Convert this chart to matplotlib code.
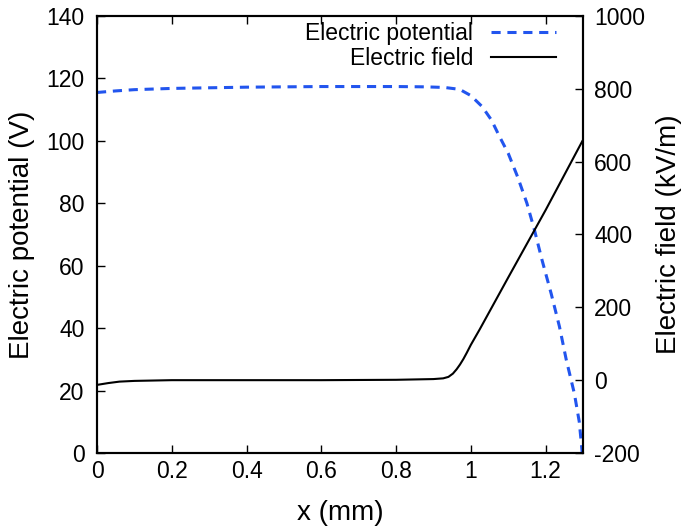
import matplotlib
matplotlib.use("Agg")
import matplotlib.pyplot as plt

plt.rcParams['font.family'] = ['Liberation Sans', 'DejaVu Sans']

# Electric potential (V), left axis
x_pot = [0, 0.05, 0.1, 0.2, 0.3, 0.4, 0.5, 0.6, 0.7, 0.8, 0.88, 0.93, 0.97,
         1.0, 1.03, 1.055, 1.077, 1.1, 1.125, 1.15, 1.17, 1.19, 1.215, 1.237,
         1.255, 1.277, 1.29, 1.298]
potential = [115.5, 116.0, 116.4, 116.8, 117.0, 117.2, 117.3, 117.4, 117.4,
             117.4, 117.3, 117.1, 116.5, 114.5, 111.0, 106.7, 101.3, 96.0, 88.5,
             80.0, 71.5, 62.0, 51.0, 40.5, 30.0, 19.0, 10.0, 0.0]

# Electric field (kV/m), right axis
x_field = [0, 0.03, 0.06, 0.1, 0.2, 0.4, 0.6, 0.8, 0.9, 0.926, 0.94, 0.952,
           0.962, 0.971, 0.98, 0.989, 1.0, 1.024, 1.1, 1.2, 1.298]
field = [-13, -8, -4, -2, 0, 0, 0, 1, 3, 5, 9, 18, 30, 43, 58, 75, 97, 140,
         282, 467, 656]

x_ticks = [0, 0.2, 0.4, 0.6, 0.8, 1.0, 1.2]
x_ticklabels = ['0', '0.2', '0.4', '0.6', '0.8', '1', '1.2']
left_ticks = [0, 20, 40, 60, 80, 100, 120, 140]
right_ticks = [-200, 0, 200, 400, 600, 800, 1000]
right_ticklabels = ['-200', '0', '200', '400', '600', '800', '1000']

fs = 16.5
lfs = 20
fig = plt.figure(figsize=(6.85, 5.26), dpi=100)
ax = fig.add_axes([97 / 685, 73 / 526, 486 / 685, 437 / 526])
ax2 = ax.twinx()

l1, = ax.plot(x_pot, potential, color='#2255ee', lw=2.2, dashes=(3.0, 2.2),
              label='Electric potential')
l2, = ax2.plot(x_field, field, color='black', lw=1.5, label='Electric field')

ax.set_xlim(0, 1.3)
ax.set_ylim(0, 140)
ax2.set_ylim(-200, 1000)

ax.set_xticks(x_ticks)
ax.set_xticklabels(x_ticklabels)
ax.set_yticks(left_ticks)
ax2.set_yticks(right_ticks)
ax2.set_yticklabels(right_ticklabels)

ax.tick_params(axis='x', direction='in', length=6, width=1, top=True,
               labelsize=fs, pad=5)
ax.tick_params(axis='y', direction='in', length=6, width=1, right=False,
               labelsize=fs, pad=9)
ax2.tick_params(axis='y', direction='in', length=6, width=1,
                labelsize=fs, pad=8)

for a in (ax, ax2):
    for s in a.spines.values():
        s.set_linewidth(1.5)

ax.set_xlabel('x (mm)', fontsize=lfs, labelpad=12)
ax.set_ylabel('Electric potential (V)', fontsize=lfs, labelpad=8)
ax2.set_ylabel('Electric field (kV/m)', fontsize=lfs, labelpad=8)

ax2.legend(handles=[l1, l2], loc='upper right', bbox_to_anchor=(0.972, 1.018),
           frameon=False, markerfirst=False, fontsize=fs, handlelength=2.8,
           labelspacing=0.1, handletextpad=0.8, borderaxespad=0.2)

fig.savefig('out.png', dpi=100)
